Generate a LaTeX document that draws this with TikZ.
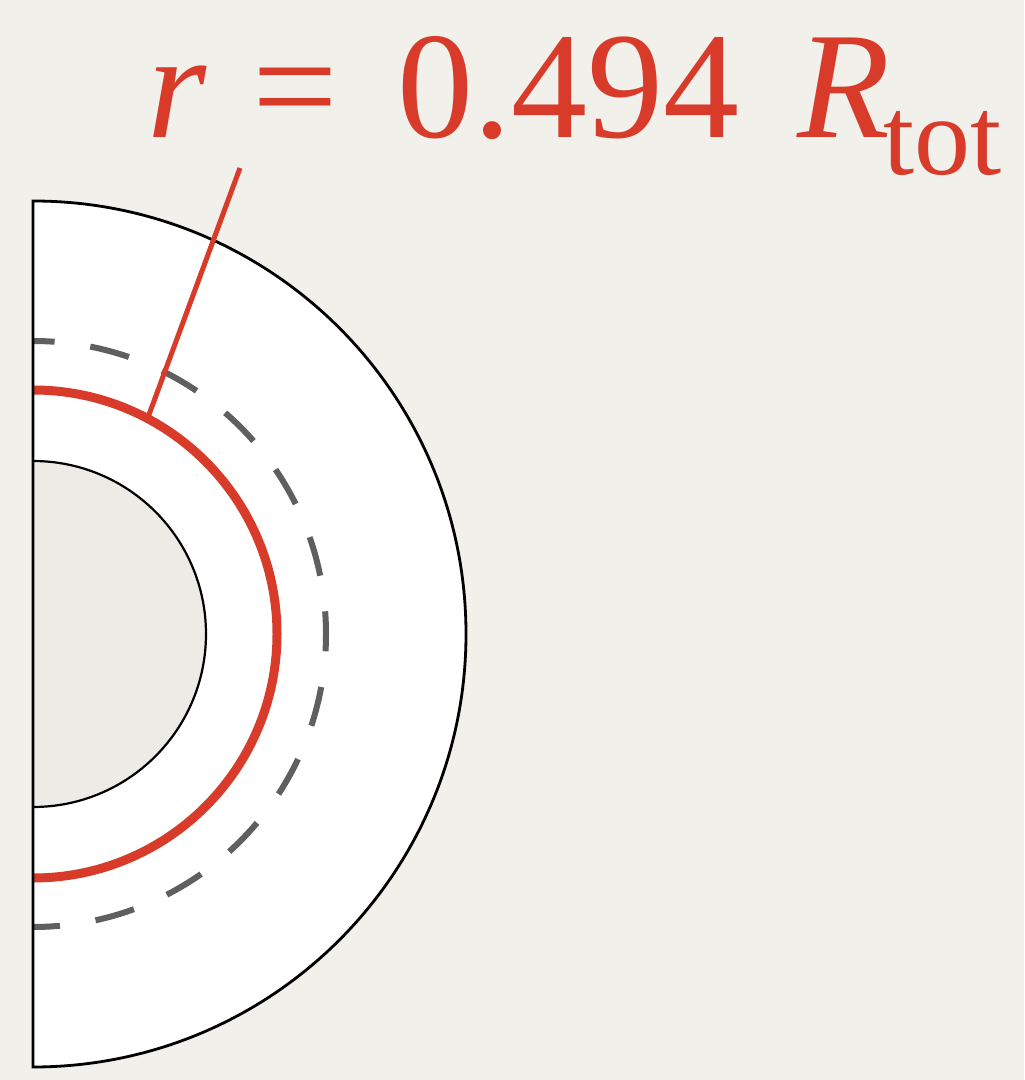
\documentclass[tikz,border=0pt]{standalone}
\usepackage{fontspec}
\setmainfont{Liberation Serif}
\newfontfamily\eqfont{Liberation Serif}
\usetikzlibrary{positioning}
\definecolor{paper}{RGB}{241,240,234}
\definecolor{coregray}{RGB}{236,235,229}
\definecolor{radred}{RGB}{216,59,42}
\definecolor{shellgray}{RGB}{95,95,95}

\begin{document}
\begin{tikzpicture}[
      x=0.5pt, y=0.5pt,
      rim/.style={draw=black, line width=1.4pt},
      shell/.style={draw=shellgray, line width=3pt,
                    dash pattern=on 20pt off 18pt, dash phase=6.5pt},
      radring/.style={draw=radred, line width=4.5pt},
      leader/.style={draw=radred, line width=2.5pt},
      eqlbl/.style={text=radred, inner sep=0pt, anchor=base west,
                    font=\eqfont\fontsize{76}{76}\selectfont}
    ]
    % paper
    \fill[paper] (-33,-446) rectangle (991,634);
    \useasboundingbox (-33,-446) rectangle (991,634);

    % half disc and core
    \fill[white] (0,-433) arc[start angle=-90, end angle=90, radius=433] -- cycle;
    \fill[coregray] (0,-173) arc[start angle=-90, end angle=90, radius=173] -- cycle;
    \draw[line width=1.1pt] (0,-173) arc[start angle=-90, end angle=90, radius=173];

    % dashed shell and radius ring
    \draw[shell] (0,-293) arc[start angle=-90, end angle=90, radius=293];
    \draw[radring] (0,-244) arc[start angle=-90, end angle=90, radius=244];

    % outline
    \draw[rim] (0,-433) arc[start angle=-90, end angle=90, radius=433] -- cycle;

    % label and leader
    \node[eqlbl] (eq) at (114,496)
      {\textit{r}\hspace{22.5pt}=\hspace{30pt}0.494\hspace{29pt}\textit{R}\hspace{-3.5pt}\raisebox{-18.5pt}{\normalfont\fontsize{56}{56}\selectfont tot}};
    \coordinate (foot) at (62:244);
    \coordinate (tip) at (207,466);
    \draw[leader] (foot) -- (tip);
  \end{tikzpicture}
\end{document}
